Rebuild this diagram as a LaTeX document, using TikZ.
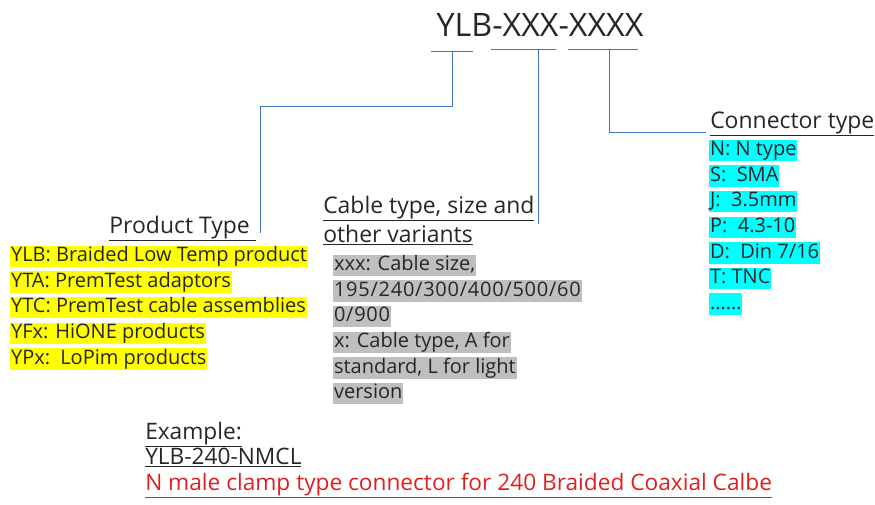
\documentclass[tikz,border=0pt]{standalone}
\usepackage{fontspec}
\setmainfont{Open Sans}
\usepackage{tikz}
\usetikzlibrary{matrix}
\usetikzlibrary{calc}

\definecolor{hlyellow}{HTML}{FFFF00}
\definecolor{hlcyan}{HTML}{00FFFF}
\definecolor{hlgray}{HTML}{BFBFBF}
\definecolor{linkblue}{HTML}{4472C4}
\definecolor{inktext}{HTML}{262626}
\definecolor{inkred}{HTML}{E02020}

\newcommand{\widedigits}[1]{{\addfontfeature{LetterSpace=3.7}#1}}

\tikzset{
	link/.style={draw=linkblue, line width=0.75pt},
	heading/.style={inner sep=0pt, align=left, text=inktext,
		font=\fontsize{17.2}{21.75}\selectfont},
	exline/.style={inner sep=0pt, anchor=base west, text=inktext,
		font=\fontsize{17}{19}\selectfont},
	hllist/.style={matrix of nodes, row sep=3.2pt, anchor=north west, inner sep=0pt,
		nodes={anchor=west, fill=#1, inner xsep=0.6pt, inner ysep=0pt,
			text height=12pt, text depth=4pt, text=inktext,
			font=\fontsize{15}{18}\selectfont}},
}

\begin{document}
\begin{tikzpicture}[x=0.75pt, y=-0.75pt]
\useasboundingbox (0,0) rectangle (875,504);
\node[inner sep=0pt, text=inktext, font=\fontsize{24.2}{29}\selectfont] (code) at (540,25) {YLB-XXX-XXXX};
% segment marks
\draw[link] (431,51) -- (473,51);
\draw[link] (491,49) -- (556,49);
\draw[link] (568,49) -- (638,49);
\coordinate (seg1) at (452,51);
\coordinate (seg2) at (538,49);
\coordinate (seg3) at (609,49);

\node[heading, anchor=base east] (ptype) at (256,233) {\underline{Product Type\ }};
\node[heading, anchor=base west] (cabhead) at (323,242)
	{\underline{Cable type, size and}\\\underline{other variants}};
\node[heading, anchor=base west] (conhead) at (710,128) {\underline{Connector type}};

\matrix (ptlist) [hllist=hlyellow] at (10,245.5)
{
	YLB: Braided Low Temp product \\
	YTA: PremTest adaptors \\
	YTC: PremTest cable assemblies \\
	YFx: HiONE products \\
	YPx:\, LoPim products \\
};
\matrix (cablist) [hllist=hlgray] at (333,254.5)
{
	xxx: Cable size, \\
	\widedigits{195/240/300/400/500/60} \\
	\widedigits{0/900} \\
	x: Cable type, A for \\
	standard, L for light\ \\
	version \\
};
\matrix (conlist) [hllist=hlcyan] at (709,139.5)
{
	N: N type \\
	S:\ \ SMA \\
	J:\ \ 3.5mm \\
	P:\ \ 4.3-10 \\
	D:\ \ Din 7/16 \\
	T: TNC \\
	…… \\
};

\path[link]
	(seg1) -- ++(0,55) -| ([xshift=3pt]ptype.base east)
	(seg2) -- ([yshift=-3pt]seg2 |- cabhead.east)
	(seg3) |- ([shift={(-3pt,-3pt)}]conhead.base west);

\node[exline] (exhead) at (145,439) {\underline{Example:}};
\node[exline] (exnum) at (145,464) {\underline{YLB-240-NMCL}};
\node[exline, text=inkred] (exnote) at (145,490)
	{\underline{N male clamp type connector for 240 Braided Coaxial Calbe}};
\end{tikzpicture}
\end{document}
